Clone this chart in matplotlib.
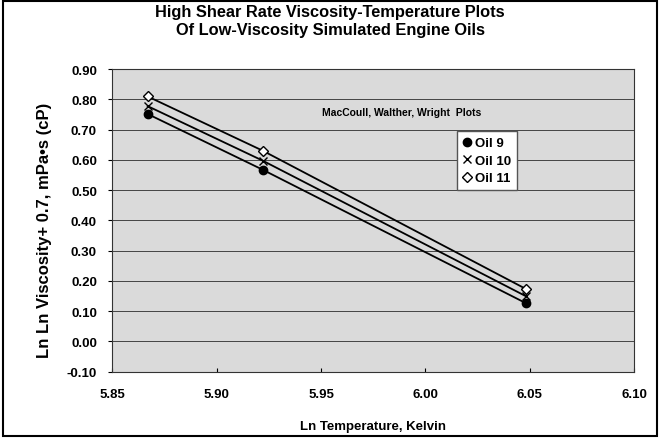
import matplotlib
matplotlib.use("Agg")
import matplotlib.pyplot as plt
from matplotlib.patches import Rectangle

plt.rcParams['font.family'] = ['Liberation Sans', 'DejaVu Sans']
plt.rcParams['font.weight'] = 'bold'

ln_temp = [5.867, 5.922, 6.048]
oil9 = [0.752, 0.568, 0.127]
oil10 = [0.778, 0.598, 0.150]
oil11 = [0.810, 0.631, 0.174]
series_labels = ['Oil 9', 'Oil 10', 'Oil 11']
yticks = [-0.10, 0.00, 0.10, 0.20, 0.30, 0.40, 0.50, 0.60, 0.70, 0.80, 0.90]
xticks = [5.85, 5.90, 5.95, 6.00, 6.05, 6.10]

fig = plt.figure(figsize=(6.6, 4.39), dpi=100)
ax = fig.add_axes([0.170, 0.151, 0.791, 0.689])
ax.set_facecolor('#dadada')

for yv in yticks[1:-1]:
    ax.axhline(yv, color='#444444', lw=0.7, zorder=1)

ax.plot(ln_temp, oil9, color='black', lw=1.3, marker='o', ms=6,
        mfc='black', mec='black', label=series_labels[0], zorder=3)
ax.plot(ln_temp, oil10, color='black', lw=1.3, marker='x', ms=6,
        mew=1.0, label=series_labels[1], zorder=3)
ax.plot(ln_temp, oil11, color='black', lw=1.3, marker='D', ms=5.5,
        mfc='white', mec='black', mew=1.0, label=series_labels[2], zorder=3)

ax.set_xlim(5.85, 6.10)
ax.set_ylim(-0.10, 0.90)
ax.set_xticks(xticks)
ax.set_yticks(yticks)
ax.set_xticklabels([f'{v:.2f}' for v in xticks], fontsize=9.5, fontweight='bold')
ax.set_yticklabels([f'{v:.2f}' for v in yticks], fontsize=9.5, fontweight='bold')
ax.tick_params(axis='x', length=3, direction='in', pad=12)
ax.tick_params(axis='y', length=3, direction='out', pad=8)
for s in ax.spines.values():
    s.set_color('#333333')
    s.set_linewidth(0.8)

ax.set_xlabel('Ln Temperature, Kelvin', fontsize=9.5, fontweight='bold', labelpad=14)
ax.set_ylabel('Ln Ln Viscosity+ 0.7, mPa\u2022s (cP)', fontsize=12,
              fontweight='bold', labelpad=4)
ax.yaxis.set_label_coords(-0.115, 0.47)

fig.text(0.5, 0.988, 'High Shear Rate Viscosity-Temperature Plots\nOf Low-Viscosity Simulated Engine Oils',
         ha='center', va='top', fontsize=11.8, fontweight='bold', linespacing=1.25)

ax.text(0.555, 0.86, 'MacCoull, Walther, Wright  Plots', transform=ax.transAxes,
        ha='center', va='center', fontsize=7.5, fontweight='bold')

leg = ax.legend(loc='upper left', bbox_to_anchor=(0.66, 0.795), frameon=True,
                fancybox=False, edgecolor='#555555', facecolor='white', framealpha=1,
                fontsize=9.5, handlelength=0.6, handletextpad=0.3, borderpad=0.45,
                labelspacing=0.4, borderaxespad=0)
for line in leg.get_lines():
    line.set_linestyle('none')

fig.patches.append(Rectangle((0.004, 0.004), 0.992, 0.992, transform=fig.transFigure,
                             fill=False, edgecolor='black', lw=1.5))

fig.savefig('out.png', dpi=100)
